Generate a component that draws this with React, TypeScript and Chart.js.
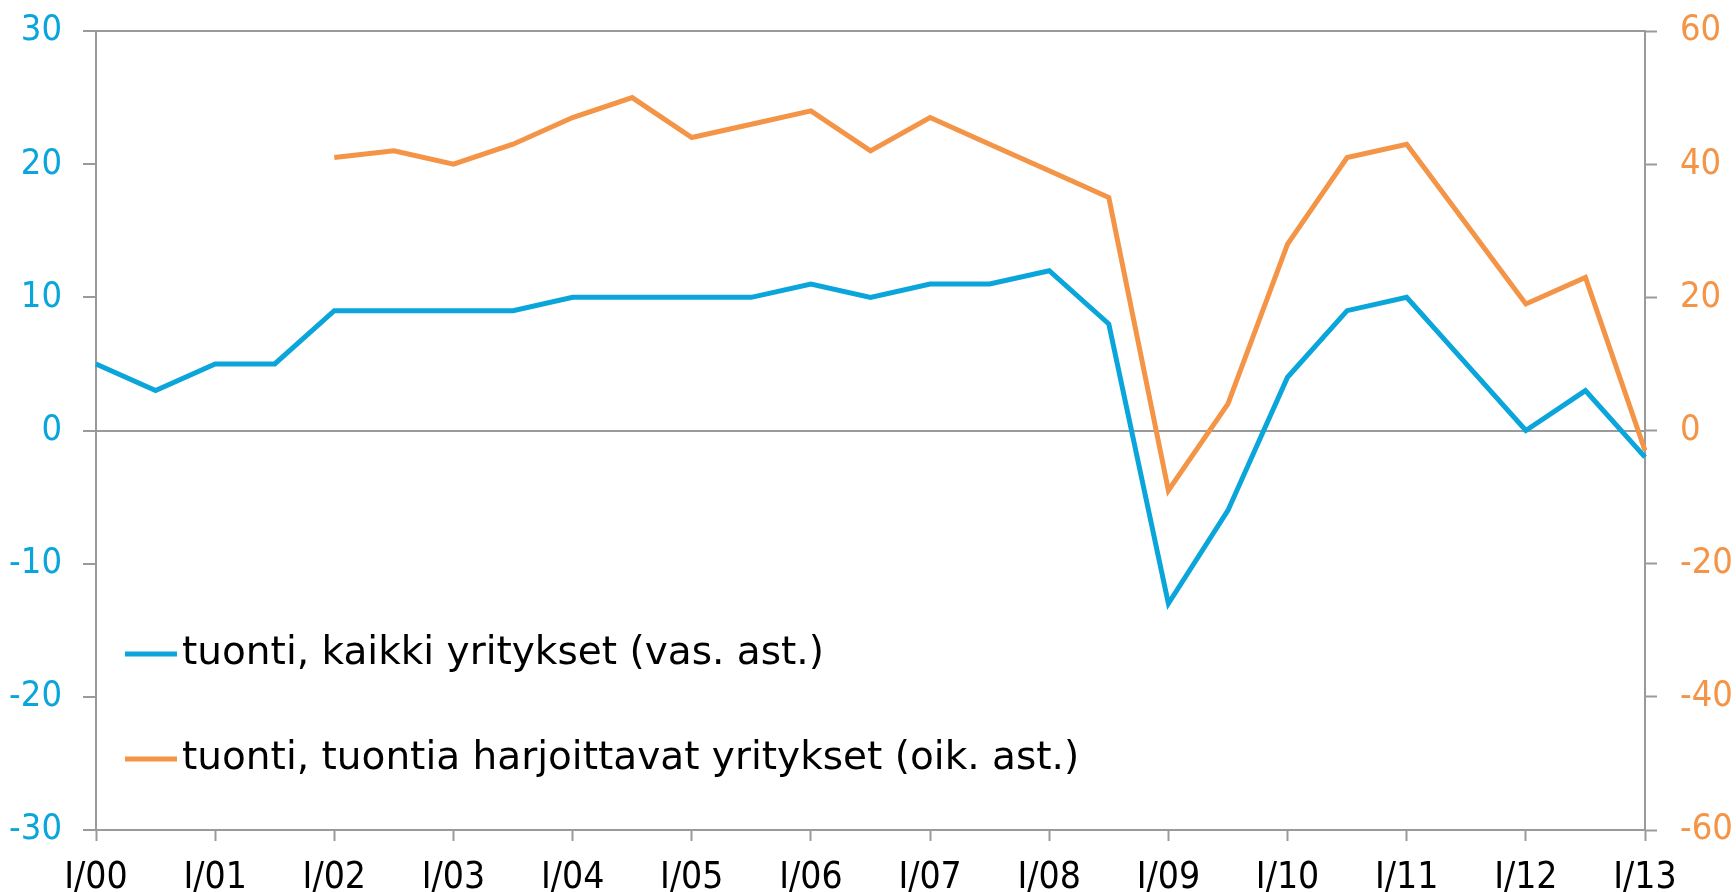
import React, { useEffect, useRef } from "react";
import { Chart, registerables } from "chart.js";

Chart.register(...registerables);

const periods: string[] = [
  "I/00", "II/00", "I/01", "II/01", "I/02", "II/02", "I/03", "II/03", "I/04", "II/04",
  "I/05", "II/05", "I/06", "II/06", "I/07", "II/07", "I/08", "II/08", "I/09", "II/09",
  "I/10", "II/10", "I/11", "II/11", "I/12", "II/12", "I/13",
];

const allFirms: number[] = [
  5, 3, 5, 5, 9, 9, 9, 9, 10, 10,
  10, 10, 11, 10, 11, 11, 12, 8, -13, -6,
  4, 9, 10, 5, 0, 3, -2,
];

const importingFirms: (number | null)[] = [
  null, null, null, null, 41, 42, 40, 43, 47, 50,
  44, 46, 48, 42, 47, 43, 39, 35, -9, 4,
  28, 41, 43, 31, 19, 23, -3,
];

const seriesNames: string[] = [
  "tuonti, kaikki yritykset (vas. ast.)",
  "tuonti, tuontia harjoittavat yritykset (oik. ast.)",
];

const BLUE = "#0AA5DA";
const ORANGE = "#F39447";
const GRAY = "#9A9A9A";
const FONT = "'DejaVu Sans Condensed', 'Liberation Sans Narrow', 'DejaVu Sans', sans-serif";
const LEGEND_FONT = "'DejaVu Sans', sans-serif";

export default function App() {
  const ref = useRef<HTMLCanvasElement | null>(null);

  useEffect(() => {
    document.body.style.margin = "0";
    const canvas = ref.current;
    if (!canvas) return;

    const legendPlugin = {
      id: "innerLegend",
      afterDraw(chart: any) {
        const ctx = chart.ctx;
        const items = [
          { y: 654, color: BLUE, text: seriesNames[0] },
          { y: 759, color: ORANGE, text: seriesNames[1] },
        ];
        ctx.save();
        for (const it of items) {
          ctx.strokeStyle = it.color;
          ctx.lineWidth = 5;
          ctx.beginPath();
          ctx.moveTo(125, it.y);
          ctx.lineTo(177, it.y);
          ctx.stroke();
          ctx.fillStyle = "#000";
          ctx.font = `39px ${LEGEND_FONT}`;
          ctx.textBaseline = "middle";
          ctx.textAlign = "left";
          ctx.fillText(it.text, 182, it.y);
        }
        ctx.restore();
      },
    };

    const noVPad = (scale: any) => {
      scale.paddingTop = 0;
      scale.paddingBottom = 0;
    };

    const chart = new Chart(canvas, {
      type: "line",
      data: {
        labels: periods,
        datasets: [
          {
            label: seriesNames[0],
            data: allFirms,
            borderColor: BLUE,
            backgroundColor: BLUE,
            borderWidth: 5,
            pointRadius: 0,
            tension: 0,
            yAxisID: "y",
          },
          {
            label: seriesNames[1],
            data: importingFirms,
            borderColor: ORANGE,
            backgroundColor: ORANGE,
            borderWidth: 5,
            pointRadius: 0,
            tension: 0,
            yAxisID: "y1",
          },
        ],
      },
      options: {
        responsive: false,
        animation: false,
        layout: { padding: { top: 31, left: 0, right: 0, bottom: 0 } },
        plugins: {
          legend: { display: false },
          tooltip: { enabled: false },
        },
        scales: {
          x: {
            type: "category",
            offset: false,
            border: { display: true, color: GRAY, width: 2 },
            grid: {
              display: true,
              drawOnChartArea: false,
              drawTicks: true,
              tickLength: 11,
              tickColor: GRAY,
              tickWidth: 2,
            },
            ticks: {
              autoSkip: false,
              maxRotation: 0,
              minRotation: 0,
              padding: 15,
              color: "#000",
              font: { family: FONT, size: 37 },
              callback: (_v: any, i: number) => (i % 2 === 0 ? periods[i] : null),
            },
            afterFit: (scale: any) => {
              scale.height = 62;
              scale.paddingLeft = 0;
              scale.paddingRight = 0;
            },
          },
          y: {
            position: "left",
            min: -30,
            max: 30,
            border: { display: true, color: GRAY, width: 2 },
            grid: {
              drawOnChartArea: true,
              color: (c: any) =>
                c.tick && (c.tick.value === 0 || c.tick.value === 30) ? GRAY : "rgba(0,0,0,0)",
              lineWidth: 2,
              tickLength: 13,
              tickColor: GRAY,
              tickWidth: 2,
            },
            ticks: {
              stepSize: 10,
              padding: 21,
              color: BLUE,
              font: { family: FONT, size: 36 },
            },
            afterFit: (scale: any) => {
              scale.width = 96;
              noVPad(scale);
            },
          },
          y1: {
            position: "right",
            min: -60,
            max: 60,
            border: { display: true, color: GRAY, width: 2 },
            grid: {
              drawOnChartArea: false,
              tickLength: 12,
              tickColor: GRAY,
              tickWidth: 2,
            },
            ticks: {
              stepSize: 20,
              padding: 23,
              color: ORANGE,
              font: { family: FONT, size: 36 },
            },
            afterFit: (scale: any) => {
              scale.width = 91;
              noVPad(scale);
            },
          },
        },
      },
      plugins: [legendPlugin],
    });

    return () => chart.destroy();
  }, []);

  return (
    <div style={{ width: 1736, height: 892, position: "relative", background: "#fff" }}>
      <canvas ref={ref} width={1736} height={892} style={{ display: "block" }} />
    </div>
  );
}
